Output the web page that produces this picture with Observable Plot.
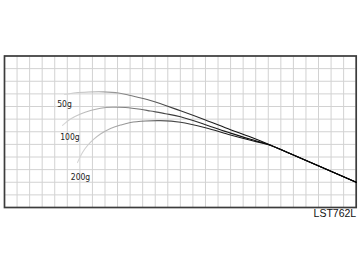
<!DOCTYPE html>
<html>
<head>
<meta charset="utf-8">
<script src="https://cdn.jsdelivr.net/npm/d3@7"></script>
<script src="https://cdn.jsdelivr.net/npm/@observablehq/plot@0.6"></script>
<style>
  html, body { margin: 0; padding: 0; background: #fff; }
</style>
</head>
<body>
<div id="chart"></div>
<script>
// Grid units: x = columns from left (0..28), y = rows from bottom (0..12)
const gridX = d3.range(0, 29);
const gridY = d3.range(0, 13);

const x50 = [4.78, 5.65, 6.69, 7.88, 9.08, 10.03, 11.62, 14.01, 16.00, 17.99, 19.59, 21.02, 22.77, 25.16, 28.00];
const y50 = [8.95, 9.09, 9.15, 9.16, 9.07, 8.87, 8.48, 7.66, 6.93, 6.16, 5.58, 5.01, 4.25, 3.22, 2.00];

const x100 = [4.62, 5.25, 6.05, 6.85, 7.64, 8.60, 9.63, 10.83, 11.62, 12.82, 14.01, 16.00, 17.99, 19.59, 21.02, 22.77, 25.16, 28.00];
const y100 = [6.50, 7.01, 7.41, 7.68, 7.86, 7.94, 7.92, 7.78, 7.64, 7.43, 7.19, 6.56, 5.89, 5.40, 4.99, 4.25, 3.22, 2.00];

const x200 = [5.81, 6.21, 6.61, 7.09, 7.64, 8.44, 9.24, 10.03, 11.23, 12.42, 14.01, 16.00, 17.99, 19.59, 21.02, 22.77, 25.16, 28.00];
const y200 = [3.56, 4.36, 4.91, 5.39, 5.82, 6.26, 6.53, 6.73, 6.85, 6.88, 6.75, 6.31, 5.74, 5.32, 4.97, 4.25, 3.23, 2.00];

const labels = ["50g", "100g", "200g"];
const labelX = [4.78, 5.21, 6.05];
const labelY = [8.16, 5.54, 2.40];

const modelName = "LST762L";

const toPts = (xs, ys) => xs.map((x, i) => ({x, y: ys[i]}));
const s50 = toPts(x50, y50);
const s100 = toPts(x100, y100);
const s200 = toPts(x200, y200);
const labelData = labels.map((t, i) => ({t, x: labelX[i], y: labelY[i]}));

const defs = () => {
  const d = d3.create("svg:defs");
  const g = d.append("linearGradient").attr("id", "fade").attr("x1", "0").attr("x2", "1").attr("y1", "0").attr("y2", "0");
  [[0, "#d8d8d8"], [0.15, "#a0a0a0"], [0.38, "#3a3a3a"], [0.6, "#111"], [1, "#000"]]
    .forEach(([o, c]) => g.append("stop").attr("offset", o).attr("stop-color", c));
  return d.node();
};

const chart = Plot.plot({
  width: 360,
  height: 270,
  marginLeft: 4,
  marginRight: 4.3,
  marginTop: 55.5,
  marginBottom: 63,
  x: {domain: [0, 28], axis: null},
  y: {domain: [0, 12], axis: null},
  style: {background: "#fff", fontFamily: "'Liberation Sans', Arial, sans-serif"},
  marks: [
    defs,
    Plot.ruleX(gridX, {stroke: "#d2d2d2", strokeWidth: 1, strokeOpacity: 1}),
    Plot.ruleY(gridY, {stroke: "#d2d2d2", strokeWidth: 1, strokeOpacity: 1}),
    Plot.frame({stroke: "#3c3c3c", strokeWidth: 1.7}),
    Plot.line(s50, {x: "x", y: "y", curve: "catmull-rom", stroke: "url(#fade)", strokeWidth: 1.1}),
    Plot.line(s100, {x: "x", y: "y", curve: "catmull-rom", stroke: "url(#fade)", strokeWidth: 1.1}),
    Plot.line(s200, {x: "x", y: "y", curve: "catmull-rom", stroke: "url(#fade)", strokeWidth: 1.1}),
    Plot.text(labelData, {x: "x", y: "y", text: "t", fontSize: 8.5, fill: "#222",
      fontFamily: "'Liberation Sans Narrow', 'DejaVu Sans Condensed', sans-serif"}),
    Plot.text([modelName], {x: 28, y: -0.51, text: d => d, textAnchor: "end", fontSize: 10.5, fill: "#111"})
  ]
});
document.getElementById("chart").appendChild(chart);
</script>
</body>
</html>
